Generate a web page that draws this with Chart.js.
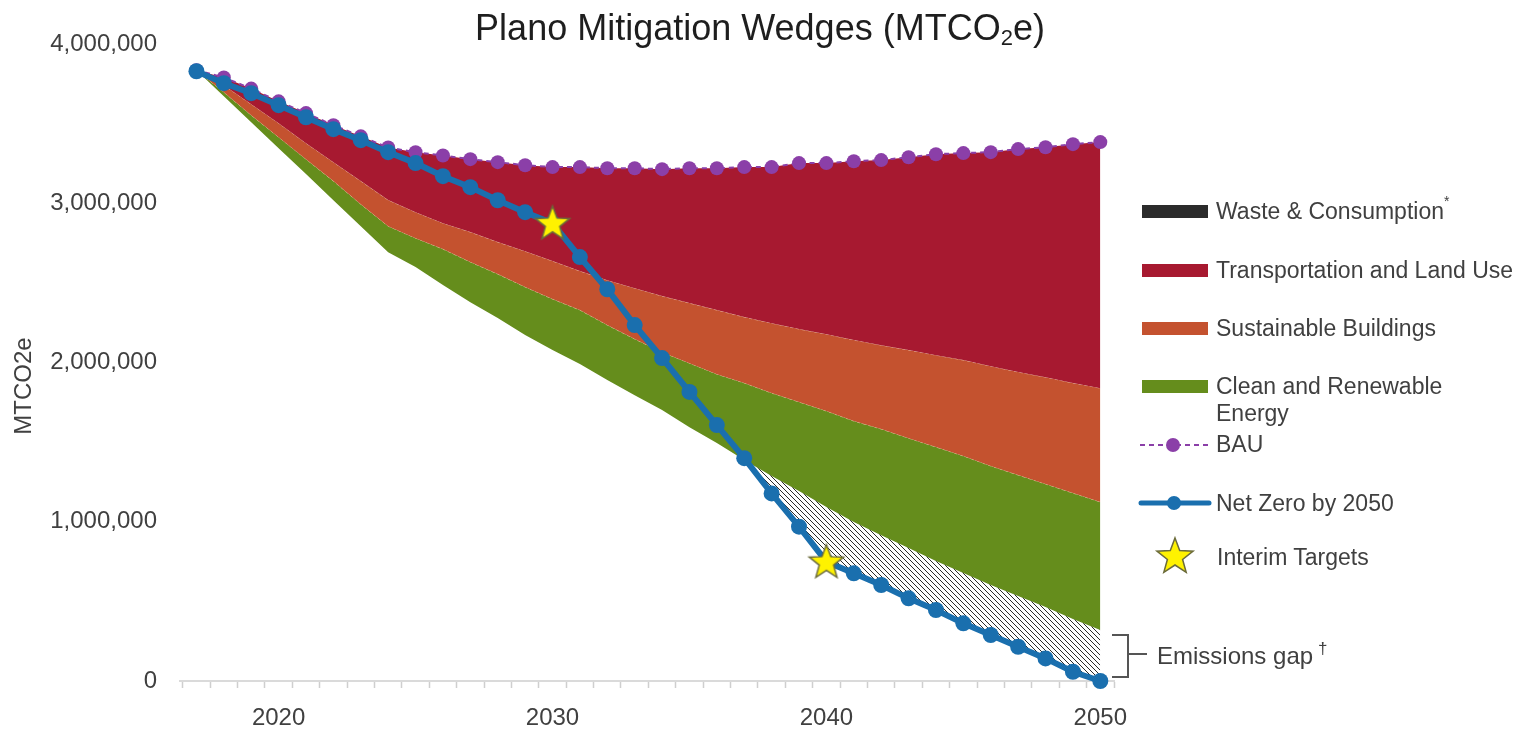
<!DOCTYPE html>
<html>
<head>
<meta charset="utf-8">
<script src="https://cdn.jsdelivr.net/npm/chart.js@4.4.1/dist/chart.umd.min.js"></script>
<style>
  html, body { margin: 0; padding: 0; background: #fff; }
  #wrap { position: relative; width: 1528px; height: 732px; font-family: "Liberation Sans", Arial, sans-serif; }
  #chart { position: absolute; left: 0; top: 0; }
  #title { position: absolute; left: 760px; top: 10px; transform: translateX(-50%); font-size: 36px; line-height: 1; color: #1e1e1e; white-space: nowrap; }
  #title sub { font-size: 22px; line-height: 0; vertical-align: -5px; }
  #overlay { position: absolute; left: 0; top: 0; pointer-events: none; }
  #overlay text { font-family: "Liberation Sans", Arial, sans-serif; fill: #404040; }
</style>
</head>
<body>
<div id="wrap">
  <canvas id="chart" width="1528" height="732"></canvas>
  <div id="title">Plano Mitigation Wedges (MTCO<sub>2</sub>e)</div>
  <svg id="overlay" width="1528" height="732">
    <text x="31" y="386" font-size="24" text-anchor="middle" transform="rotate(-90 31 386)">MTCO2e</text>

    <rect x="1142" y="205" width="66" height="13" fill="#2b2b2b"/>
    <text x="1216" y="219" font-size="23">Waste &amp; Consumption</text>
    <text x="1444" y="206" font-size="14">*</text>

    <rect x="1142" y="264" width="66" height="13" fill="#a71930"/>
    <text x="1216" y="278" font-size="23">Transportation and Land Use</text>

    <rect x="1142" y="322" width="66" height="13" fill="#c4522f"/>
    <text x="1216" y="336" font-size="23">Sustainable Buildings</text>

    <rect x="1142" y="380" width="66" height="13" fill="#658d1c"/>
    <text x="1216" y="394" font-size="23">Clean and Renewable</text>
    <text x="1216" y="421" font-size="23">Energy</text>

    <line x1="1140" y1="445" x2="1210" y2="445" stroke="#8b3fa8" stroke-width="2" stroke-dasharray="5 4"/>
    <circle cx="1173" cy="445" r="7" fill="#8b3fa8"/>
    <text x="1216" y="452" font-size="23">BAU</text>

    <line x1="1141" y1="503" x2="1209" y2="503" stroke="#1a6fae" stroke-width="5" stroke-linecap="round"/>
    <circle cx="1174" cy="503" r="7" fill="#1a6fae"/>
    <text x="1216" y="511" font-size="23">Net Zero by 2050</text>

    <polygon id="legendStar" fill="#fff200" stroke="#6b6b3a" stroke-width="1.5"/>
    <text x="1217" y="565" font-size="23">Interim Targets</text>

    <path d="M1112 635 H1128 V677 H1112 M1128 654 H1147" fill="none" stroke="#555" stroke-width="2"/>
    <text x="1157" y="664" font-size="24">Emissions gap</text>
    <text x="1318" y="654" font-size="17">†</text>
  </svg>
</div>
<script>
// values (MTCO2e)
const years = [2017, 2018, 2019, 2020, 2021, 2022, 2023, 2024, 2025, 2026, 2027, 2028, 2029, 2030, 2031, 2032, 2033,
  2034, 2035, 2036, 2037, 2038, 2039, 2040, 2041, 2042, 2043, 2044, 2045, 2046, 2047, 2048, 2049, 2050];

const bau = [3835000, 3790000, 3720000, 3640000, 3566000, 3490000, 3420000, 3350000, 3320000, 3300000, 3277000,
  3258000, 3239000, 3227000, 3227000, 3220000, 3220000, 3214000, 3220000, 3220000, 3227000, 3227000, 3252000,
  3252000, 3264000, 3271000, 3289000, 3308000, 3315000, 3321000, 3340000, 3352000, 3371000, 3384000];

const netZero = [3829000, 3754000, 3691000, 3616000, 3540000, 3465000, 3396000, 3321000, 3252000, 3170000, 3101000,
  3019000, 2944000, 2875000, 2662000, 2460000, 2235000, 2028000, 1815000, 1607000, 1399000, 1178000, 969000,
  749000, 676000, 603000, 519000, 446000, 362000, 289000, 215000, 142000, 58000, 0];

// lower edge of each wedge
const transportBottom = [3835000, 3741000, 3622000, 3503000, 3377000, 3258000, 3139000, 3020000, 2944000, 2875000,
  2819000, 2756000, 2699000, 2637000, 2574000, 2517000, 2467000, 2417000, 2373000, 2329000, 2285000, 2247000,
  2210000, 2178000, 2141000, 2109000, 2078000, 2046000, 2015000, 1977000, 1940000, 1908000, 1871000, 1839000];

const buildingsBottom = [3835000, 3697000, 3553000, 3415000, 3277000, 3139000, 2994000, 2856000, 2781000, 2712000,
  2631000, 2555000, 2474000, 2398000, 2329000, 2235000, 2147000, 2065000, 1996000, 1927000, 1871000, 1808000,
  1752000, 1695000, 1632000, 1582000, 1525000, 1469000, 1413000, 1350000, 1293000, 1237000, 1180000, 1124000];

const renewablesBottom = [3835000, 3672000, 3509000, 3346000, 3183000, 3019000, 2856000, 2693000, 2599000, 2486000,
  2379000, 2279000, 2172000, 2078000, 1990000, 1890000, 1795000, 1701000, 1594000, 1494000, 1387000, 1287000,
  1193000, 1092000, 998000, 916000, 835000, 753000, 678000, 603000, 534000, 465000, 389000, 320000];

const interimYears = [2030, 2040];
const interimTargets = [2875000, 749000];

const FONT = '"Liberation Sans", Arial, sans-serif';
const RED = '#a71930', ORANGE = '#c4522f', GREEN = '#658d1c', PURPLE = '#8b3fa8', BLUE = '#1a6fae';

function pts(arr) {
  return years.map((yr, i) => ({ x: yr, y: arr[i] }));
}

function starPath(cx, cy, R, r) {
  const out = [];
  for (let i = 0; i < 10; i++) {
    const a = -Math.PI / 2 + i * Math.PI / 5;
    const rad = i % 2 ? r : R;
    out.push([cx + rad * Math.cos(a), cy + rad * Math.sin(a)]);
  }
  return out;
}

function makeStar(size) {
  const c = document.createElement('canvas');
  c.width = c.height = size;
  const g = c.getContext('2d');
  const p = starPath(size / 2, size / 2 + 1, size / 2 - 2, (size / 2 - 2) * 0.42);
  g.beginPath();
  p.forEach(([x, y], i) => i ? g.lineTo(x, y) : g.moveTo(x, y));
  g.closePath();
  g.fillStyle = '#fff200';
  g.fill();
  g.strokeStyle = '#6b6b3a';
  g.lineWidth = 1.5;
  g.stroke();
  return c;
}

function makeHatch() {
  const c = document.createElement('canvas');
  c.width = 5; c.height = 5;
  const g = c.getContext('2d');
  g.strokeStyle = '#2a2a2a';
  g.lineWidth = 1;
  g.beginPath();
  g.moveTo(0, 0); g.lineTo(5, 5);
  g.moveTo(-1, 4); g.lineTo(1, 6);
  g.moveTo(4, -1); g.lineTo(6, 1);
  g.stroke();
  return g.createPattern(c, 'repeat');
}

document.getElementById('legendStar').setAttribute('points',
  starPath(1175, 557, 19, 8).map(p => p.join(',')).join(' '));

const bandEdge = { borderColor: 'rgba(255,235,200,0.55)', borderWidth: 1, borderDash: [3, 3], pointRadius: 0, tension: 0 };

// higher "order" is drawn first (further back)
new Chart(document.getElementById('chart'), {
  type: 'line',
  data: {
    datasets: [
      { label: 'mitigated', data: pts(renewablesBottom), borderWidth: 0, pointRadius: 0, fill: false, order: 8 },
      Object.assign({ label: 'Clean and Renewable Energy', data: pts(buildingsBottom), backgroundColor: GREEN, fill: '-1', order: 7 }, bandEdge),
      Object.assign({ label: 'Sustainable Buildings', data: pts(transportBottom), backgroundColor: ORANGE, fill: '-1', order: 6 }, bandEdge),
      { label: 'Transportation and Land Use', data: pts(bau), backgroundColor: RED, borderWidth: 0, pointRadius: 0, fill: '-1', order: 5 },
      { label: 'Emissions gap', data: pts(renewablesBottom), borderWidth: 0, pointRadius: 0, order: 4,
        fill: { target: 6, above: makeHatch(), below: 'rgba(0,0,0,0)' } },
      { label: 'BAU', data: pts(bau), borderColor: PURPLE, borderWidth: 2, borderDash: [5, 4], fill: false, order: 3,
        pointRadius: 7, pointBackgroundColor: PURPLE, pointBorderWidth: 0, clip: false },
      { label: 'Net Zero by 2050', data: pts(netZero), borderColor: BLUE, borderWidth: 6, fill: false, order: 2,
        pointRadius: 8, pointBackgroundColor: BLUE, pointBorderWidth: 0, clip: false },
      { label: 'Interim Targets', data: interimYears.map((yr, i) => ({ x: yr, y: interimTargets[i] })), order: 1,
        showLine: false, pointStyle: makeStar(40), pointRadius: 20, clip: false }
    ]
  },
  options: {
    responsive: false,
    animation: false,
    layout: { padding: { left: 0, right: 414, top: 44, bottom: 0 } },
    plugins: { legend: { display: false }, tooltip: { enabled: false } },
    elements: { line: { tension: 0 } },
    scales: {
      x: {
        type: 'linear', min: 2016.4, max: 2050.5,
        afterBuildTicks: s => {
          const t = [];
          years.forEach(yr => { t.push({ value: yr - 0.5 }); t.push({ value: yr }); });
          t.push({ value: years[years.length - 1] + 0.5 });
          s.ticks = t;
        },
        afterFit: s => { s.height = 51; },
        grid: {
          drawOnChartArea: false, drawTicks: true, tickLength: 7, tickWidth: 1.5,
          tickColor: c => (c.tick && c.tick.value % 1 !== 0) ? '#cfcfcf' : 'rgba(0,0,0,0)'
        },
        border: { color: '#dadada', width: 2 },
        ticks: {
          autoSkip: false, maxRotation: 0, padding: 16, color: '#404040',
          font: { family: FONT, size: 24 },
          callback: v => (v % 10 === 0 ? String(v) : '')
        }
      },
      y: {
        min: 0, max: 4000000,
        afterFit: s => { s.width = 180; },
        grid: { display: false, drawTicks: false },
        border: { display: false },
        ticks: {
          stepSize: 1000000, padding: 23, color: '#404040',
          font: { family: FONT, size: 24 },
          callback: v => v.toLocaleString('en-US')
        }
      }
    }
  }
});
</script>
</body>
</html>
